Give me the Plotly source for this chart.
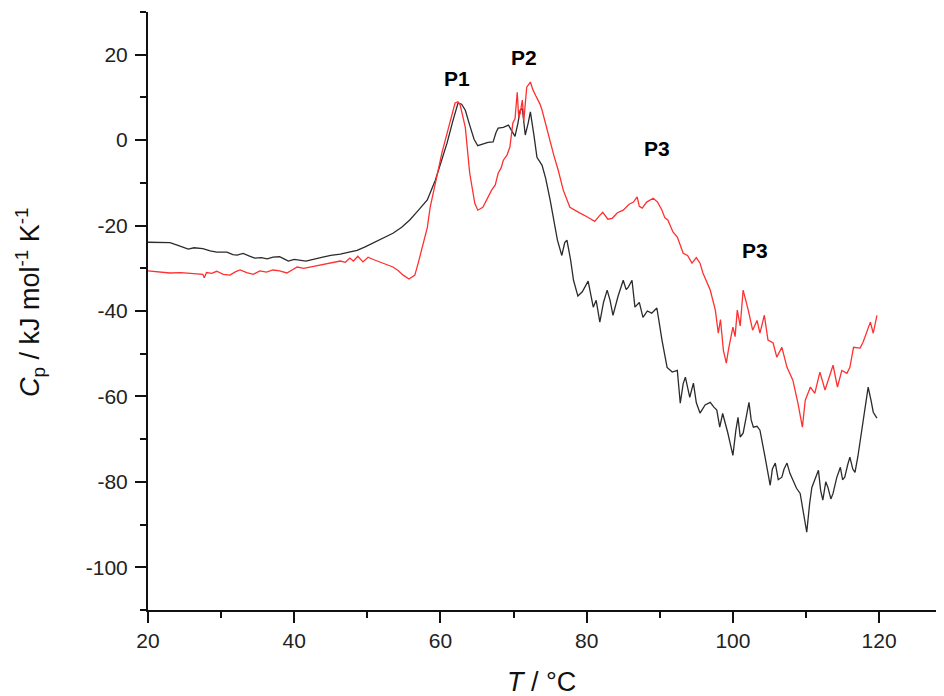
import plotly.graph_objects as go

# ------------------------------
# Données (T en °C, Cp en kJ mol-1 K-1)
t_black = [20.0, 21.5, 23.0, 24.0, 24.8, 25.5, 26.3, 27.5, 28.5, 29.4, 30.8, 31.6, 32.2, 33.0, 33.8,
           34.6, 35.5, 36.3, 37.1, 38.0, 38.6, 39.2, 40.0, 40.8, 41.6, 42.6, 43.3, 43.9, 45.0, 46.3,
           47.5, 48.6, 49.7, 50.8, 52.2, 53.5, 54.7, 55.8, 57.0, 58.2, 59.3, 60.1, 60.9, 61.7, 62.4,
           62.9, 63.4, 64.0, 64.6, 65.1, 65.8, 66.5, 67.2, 67.6, 67.9, 68.6, 69.3, 69.8, 70.2, 70.6,
           70.9, 71.2, 71.6, 72.0, 72.3, 72.8, 73.2, 73.9, 74.4, 75.0, 75.5, 76.0, 76.6, 77.0, 77.3,
           77.8, 78.2, 78.8, 79.4, 80.2, 80.9, 81.3, 81.8, 82.3, 82.8, 83.2, 83.6, 84.3, 85.0, 85.4,
           85.7, 86.2, 86.6, 87.2, 87.7, 88.3, 88.9, 89.6, 89.9, 90.3, 91.0, 91.7, 92.4, 92.8, 93.2,
           93.5, 94.1, 94.6, 95.0, 95.5, 96.2, 96.9, 97.4, 97.8, 98.2, 98.6, 99.3, 100.0, 100.4, 100.7,
           101.0, 101.4, 101.8, 102.2, 102.5, 102.8, 103.3, 103.7, 104.4, 104.8, 105.1, 105.4, 105.8,
           106.2, 106.7, 107.0, 107.4, 107.8, 108.2, 108.7, 109.2, 109.6, 110.1, 110.5, 110.8, 111.2,
           111.7, 112.0, 112.3, 112.7, 113.0, 113.4, 113.7, 114.2, 114.7, 115.0, 115.3, 115.7, 116.0,
           116.4, 116.7, 117.1, 117.4, 118.0, 118.5, 118.9, 119.2, 119.7]
cp_black = [-23.9, -23.9, -24.0, -24.6, -25.0, -25.5, -25.2, -25.4, -25.9, -26.2, -26.2, -26.8, -26.9,
            -26.5, -27.1, -27.6, -27.5, -27.8, -27.4, -27.3, -27.8, -28.3, -27.9, -28.1, -28.3, -27.9,
            -27.7, -27.4, -27.0, -26.7, -26.2, -25.8, -25.0, -24.1, -23.0, -21.8, -20.4, -18.7, -16.4,
            -14.0, -9.4, -5.0, -0.7, 4.5, 8.7, 8.4, 7.0, 3.5, 0.2, -1.3, -0.9, -0.5, -0.4, 1.8, 2.8,
            3.0, 3.5, 2.1, 0.9, 4.0, 7.0, 7.4, 1.2, 4.0, 6.6, 1.0, -4.0, -5.9, -9.0, -14.0, -18.5,
            -23.4, -27.0, -24.0, -23.4, -28.0, -32.8, -36.5, -35.5, -33.0, -39.1, -37.5, -42.6, -38.0,
            -35.1, -37.5, -41.0, -36.5, -32.8, -35.0, -34.4, -32.8, -39.1, -38.0, -41.5, -40.0, -40.5,
            -39.3, -42.5, -46.8, -53.2, -54.3, -53.9, -61.6, -57.0, -55.5, -60.2, -56.9, -61.5, -63.9,
            -62.0, -61.4, -62.5, -63.2, -67.2, -64.0, -68.5, -73.8, -68.0, -64.9, -69.5, -68.6, -65.0,
            -61.4, -65.5, -67.2, -67.0, -67.9, -74.2, -78.5, -80.8, -77.0, -75.6, -79.5, -78.9, -77.0,
            -75.6, -78.0, -79.6, -81.5, -82.7, -87.0, -91.8, -85.0, -81.3, -79.5, -77.3, -82.0, -84.3,
            -80.0, -81.3, -84.0, -82.7, -79.0, -76.6, -79.5, -78.9, -76.0, -74.2, -77.0, -77.8, -74.0,
            -70.3, -63.5, -57.8, -61.0, -63.7, -65.1]

t_red = [20.0, 21.5, 23.0, 24.5, 26.0, 27.5, 27.7, 28.0, 28.7, 29.4, 30.3, 31.2, 32.0, 32.6, 33.5,
         34.4, 35.3, 36.2, 37.1, 38.0, 39.0, 39.7, 40.4, 41.3, 42.2, 43.5, 44.4, 45.3, 46.3, 47.0,
         47.6, 48.1, 48.7, 49.4, 50.1, 50.9, 51.7, 52.6, 53.5, 54.2, 54.9, 55.7, 56.5, 57.0, 57.5,
         58.2, 58.6, 59.5, 60.2, 60.9, 61.5, 62.0, 62.4, 62.7, 63.4, 64.0, 64.7, 65.1, 65.8, 66.5,
         67.0, 67.5, 67.9, 68.3, 68.6, 69.1, 69.5, 69.9, 70.2, 70.5, 70.7, 70.9, 71.2, 71.4, 71.8,
         72.3, 72.6, 73.0, 73.6, 73.9, 74.5, 75.0, 75.5, 76.1, 76.8, 77.7, 78.4, 79.1, 80.1, 81.1,
         81.7, 82.2, 82.9, 83.5, 84.2, 85.0, 85.8, 86.4, 86.9, 87.2, 87.6, 88.2, 89.1, 89.7, 90.3,
         90.7, 91.1, 91.8, 92.4, 93.2, 93.8, 94.4, 95.0, 95.5, 95.9, 96.4, 96.9, 97.6, 98.0, 98.3,
         98.7, 99.1, 99.4, 100.0, 100.3, 100.6, 101.0, 101.4, 101.7, 102.1, 102.7, 103.3, 103.7,
         104.3, 104.8, 105.5, 106.0, 106.7, 107.4, 108.2, 108.9, 109.5, 109.9, 110.6, 111.2, 111.9,
         112.6, 113.0, 113.7, 114.3, 114.9, 115.6, 116.0, 116.5, 117.4, 117.8, 118.8, 119.2, 119.7]
cp_red = [-30.6, -30.9, -31.1, -31.0, -31.2, -31.4, -32.2, -31.0, -31.2, -30.7, -31.4, -31.6, -30.8,
          -30.4, -31.0, -31.4, -30.6, -30.9, -30.4, -30.6, -31.1, -30.3, -29.7, -30.0, -29.7, -29.3,
          -29.1, -28.8, -28.3, -28.6, -27.6, -28.3, -27.2, -28.5, -27.4, -28.0, -28.5, -29.0, -29.7,
          -30.5, -31.6, -32.5, -31.6, -28.5, -25.0, -20.5, -15.7, -8.7, -3.0, 1.6, 5.5, 8.7, 9.0,
          8.2, 3.0, -7.7, -14.8, -16.4, -15.7, -13.3, -11.7, -10.5, -7.7, -6.5, -4.7, -3.5, -1.6,
          4.0, 5.0, 11.2, 5.5, 6.3, 9.4, 4.5, 12.4, 13.6, 12.0, 10.5, 8.5, 7.0, 3.0, -0.7, -3.5,
          -7.0, -11.7, -15.7, -16.5, -17.1, -18.0, -19.0, -17.8, -16.9, -18.5, -18.3, -17.0, -16.4,
          -15.0, -14.5, -13.3, -15.5, -15.9, -14.5, -13.6, -14.5, -16.4, -18.2, -18.7, -21.5, -22.7,
          -26.5, -27.0, -28.8, -27.5, -28.8, -31.1, -33.0, -35.1, -39.8, -45.2, -42.0, -49.2, -52.2,
          -49.0, -43.8, -46.0, -39.8, -43.5, -35.1, -37.0, -39.8, -44.5, -42.2, -45.2, -41.0, -46.8,
          -47.5, -50.8, -48.5, -53.2, -56.2, -61.6, -67.2, -60.9, -57.8, -59.3, -54.3, -58.5, -56.2,
          -52.7, -57.8, -53.9, -54.6, -53.2, -48.5, -48.7, -47.3, -42.6, -45.2, -41.0]

# Graduations (trait d'union comme sur l'original)
y_ticks = [20, 0, -20, -40, -60, -80, -100]
y_ticklabels = ["20", "0", "-20", "-40", "-60", "-80", "-100"]
x_ticks = [20, 40, 60, 80, 100, 120]
x_ticklabels = ["20", "40", "60", "80", "100", "120"]

# Étiquettes des pics
peak_labels = ["P1", "P2", "P3", "P3"]
peak_t = [62.3, 71.4, 89.6, 103.0]
peak_cp = [14.5, 19.4, -1.9, -25.8]

# ------------------------------
fig = go.Figure()
fig.add_trace(go.Scatter(x=t_black, y=cp_black, mode='lines',
                         line=dict(color='#2b2b2b', width=1.3), showlegend=False))
fig.add_trace(go.Scatter(x=t_red, y=cp_red, mode='lines',
                         line=dict(color='#ff3030', width=1.3), showlegend=False))

for lab, tx, cy in zip(peak_labels, peak_t, peak_cp):
    fig.add_annotation(x=tx, y=cy, text=f"<b>{lab}</b>", showarrow=False,
                       font=dict(size=21, color='black'))

# Titres des axes
fig.add_annotation(xref='paper', yref='paper', x=-0.1486, y=0.515, xanchor='center', yanchor='middle',
                   textangle=-90,
                   text="<i>C</i><sub>p</sub> / kJ mol<sup>-1</sup> K<sup>-1</sup>",
                   showarrow=False, font=dict(size=27, color='#111'))
fig.add_annotation(xref='paper', yref='paper', x=0.496, y=-0.12, xanchor='center', yanchor='middle',
                   text="<i>T</i> / °C", showarrow=False, font=dict(size=27, color='#111'))

axis_style = dict(showline=True, linecolor='#111', linewidth=2, showgrid=False, zeroline=False,
                  ticks='outside', ticklen=11, tickwidth=2, tickcolor='#111',
                  tickfont=dict(size=21, color='#222'),
                  minor=dict(ticks='outside', ticklen=6, tickwidth=2, tickcolor='#111', dtick=10))

# la page a une marge de 8 px : on décale le cadre pour tomber juste
fig.update_layout(
    width=944, height=696,
    margin=dict(l=140, r=10, t=4, b=94),
    plot_bgcolor='white', paper_bgcolor='white',
    font=dict(family='Liberation Sans'),
    xaxis=dict(range=[20, 128.6], tickvals=x_ticks, ticktext=x_ticklabels, **axis_style),
    yaxis=dict(range=[-110, 30], tickvals=y_ticks, ticktext=y_ticklabels, ticklabelstandoff=3,
               **axis_style),
)
fig.update_xaxes(minor=dict(tick0=20))
fig.update_yaxes(minor=dict(tick0=0))

fig.write_html("out.html")
